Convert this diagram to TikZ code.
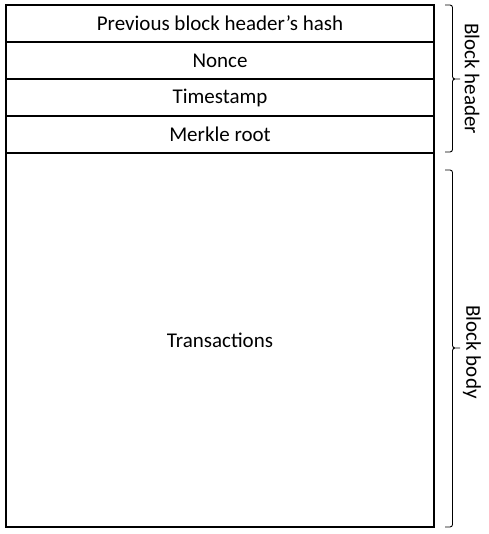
\documentclass[tikz,border=0pt]{standalone}
\usepackage{fontspec}
\setmainfont{Carlito}
\usetikzlibrary{positioning}

\begin{document}
\begin{tikzpicture}[x=1pt, y=1pt,
  field/.style={draw=black, line width=1.4pt, inner sep=0pt, outer sep=0pt,
    minimum width=428pt, minimum height=37pt, font=\fontsize{21}{24}\selectfont},
  sidebrace/.style={line width=0.9pt, rounded corners=2.5pt},
  sidelabel/.style={rotate=-90, font=\fontsize{21}{24}\selectfont}]

% Canvas
\useasboundingbox (0,0) rectangle (488,-534);

% Header fields
\node[field, anchor=north west] (prevhash) at (6,-5) {Previous block header’s hash};
\node[field, below=0pt of prevhash] (nonce) {Nonce};
\node[field, below=0pt of nonce] (timestamp) {Timestamp};
\node[field, below=0pt of timestamp] (merkle) {Merkle root};

% Body
\node[field, minimum height=374pt, line width=1.8pt, below=0pt of merkle] (txs) {Transactions};

% Braces
\coordinate (hdrtop) at (445,-5);
\coordinate (hdrtip) at (460,-79);
\coordinate (hdrbot) at (445,-152);
\coordinate (bodytop) at (445,-170);
\coordinate (bodytip) at (460,-348);
\coordinate (bodybot) at (445,-527);
\draw[sidebrace] (hdrtop) -- ++(7.5,0) |- (hdrtip) (hdrtip) -- ++(-7.5,0) |- (hdrbot);
\draw[sidebrace] (bodytop) -- ++(7.5,0) |- (bodytip) (bodytip) -- ++(-7.5,0) |- (bodybot);

% Brace labels
\node[sidelabel] (hdrlabel) at (472,-78.5) {Block header};
\node[sidelabel] (bodylabel) at (472,-352) {Block body};

\end{tikzpicture}
\end{document}
